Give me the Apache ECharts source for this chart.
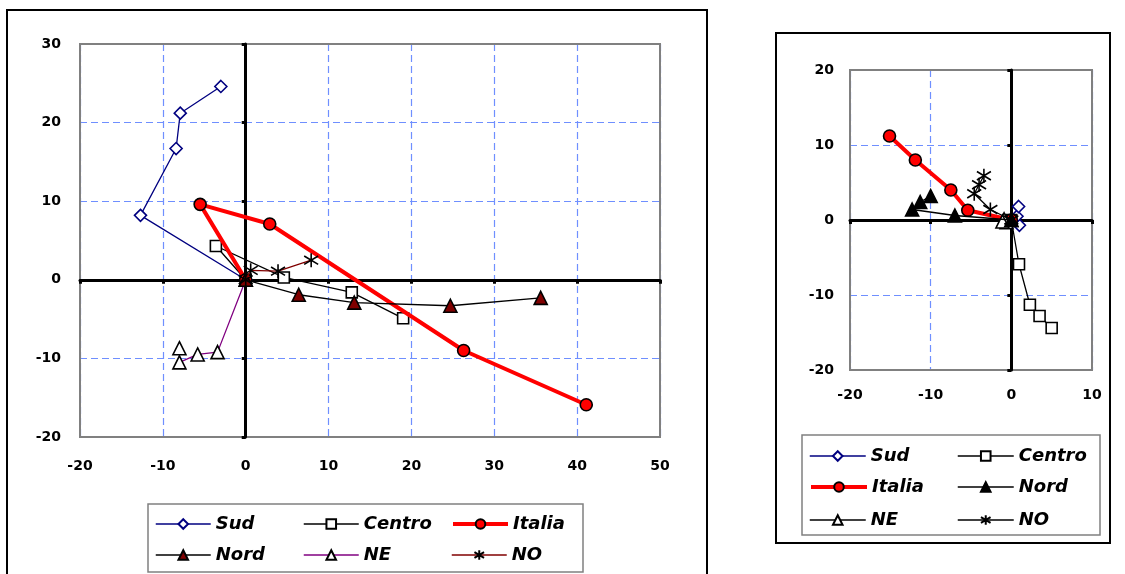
<!DOCTYPE html>
<html><head><meta charset="utf-8">
<script src="https://cdn.jsdelivr.net/npm/echarts@6/dist/echarts.min.js"></script>
<style>
body{margin:0;background:#fff;}
#a{position:absolute;left:0;top:0;width:740px;height:574px;}
#b{position:absolute;left:740px;top:0;width:385px;height:574px;}
</style>
</head><body><div id="a"></div><div id="b"></div>
<script>
// ---------- DATA ----------
const names = ['Sud','Centro','Italia','Nord','NE','NO'];
// Left chart
const xTicksL = [-20,-10,0,10,20,30,40,50];
const yTicksL = [-20,-10,0,10,20,30];
const sudL    = [[0,0],[-12.7,8.2],[-8.4,16.7],[-7.9,21.2],[-3.0,24.6]];
const centroL = [[0,0],[-3.6,4.3],[4.6,0.3],[12.8,-1.6],[19.0,-4.9]];
const italiaL = [[0,0],[-5.5,9.6],[2.9,7.1],[26.3,-9.0],[41.1,-15.9]];
const nordL   = [[0,0],[6.4,-1.9],[13.1,-2.9],[24.7,-3.3],[35.6,-2.3]];
const neL     = [[0,0],[-3.4,-9.2],[-5.8,-9.5],[-8.0,-10.5],[-8.0,-8.7]];
const noL     = [[0,0],[0.6,1.2],[3.9,1.1],[7.9,2.5]];
// Right chart
const xTicksR = [-20,-10,0,10];
const yTicksR = [-20,-10,0,10,20];
const sudR    = [[0,0],[1.0,-0.7],[0.7,0.5],[0.9,1.8]];
const centroR = [[0,0],[0.95,-5.9],[2.3,-11.3],[3.5,-12.8],[5.0,-14.4]];
const italiaR = [[0,0],[-5.4,1.3],[-7.5,4.0],[-11.9,8.0],[-15.1,11.2]];
const nordR   = [[0,0],[-7.0,0.6],[-12.3,1.4],[-11.3,2.4],[-10.0,3.2]];
const neR     = [[0,0],[-0.6,-0.3],[-0.9,0.1],[-1.1,-0.2]];
const noR     = [[0,0],[-2.6,1.4],[-4.6,3.5],[-4.0,4.7],[-3.4,5.9]];

// ---------- STYLE ----------
const ASTER = 'path://M5 0 L5 10 M0.6 2 L9.4 8 M0.6 8 L9.4 2';
const gridColor = '#6f8fff';
const font = '"DejaVu Sans", "Liberation Sans", Arial, sans-serif';

function styleL(){
  return {
    Sud:    {symbol:'diamond', size:12, fill:'#fff', stroke:'#000080', line:'#000080', lw:1.3, z:5},
    Centro: {symbol:'rect', size:11, fill:'#fff', stroke:'#000', line:'#000', lw:1.3, z:6},
    Italia: {symbol:'circle', size:12, fill:'#ff0000', stroke:'#000', line:'#ff0000', lw:4, z:7},
    Nord:   {symbol:'triangle', size:13, fill:'#800000', stroke:'#000', line:'#000', lw:1.3, z:9},
    NE:     {symbol:'triangle', size:13, fill:'#fff', stroke:'#000', line:'#800080', lw:1.3, z:8},
    NO:     {symbol:ASTER, size:14, fill:'transparent', stroke:'#000', line:'#800000', lw:1.3, z:10}
  };
}
function styleR(){
  return {
    Sud:    {symbol:'diamond', size:12, fill:'#fff', stroke:'#000080', line:'#000080', lw:1.3, z:5},
    Centro: {symbol:'rect', size:11, fill:'#fff', stroke:'#000', line:'#000', lw:1.3, z:6},
    Italia: {symbol:'circle', size:12, fill:'#ff0000', stroke:'#000', line:'#ff0000', lw:4, z:7},
    Nord:   {symbol:'triangle', size:13, fill:'#000', stroke:'#000', line:'#000', lw:1.3, z:11},
    NE:     {symbol:'triangle', size:13, fill:'#fff', stroke:'#000', line:'#000', lw:1.3, z:8},
    NO:     {symbol:ASTER, size:14, fill:'transparent', stroke:'#000', line:'#000', lw:1.3, z:10}
  };
}

function build(cfg){
  const xmin = cfg.xt[0], xmax = cfg.xt[cfg.xt.length-1], xint = cfg.xt[1]-cfg.xt[0];
  const ymin = cfg.yt[0], ymax = cfg.yt[cfg.yt.length-1], yint = cfg.yt[1]-cfg.yt[0];
  const labelStyle = {color:'#000', fontWeight:'bold', fontSize:cfg.labelSize, fontFamily:font};
  const series = cfg.names.map((n,i)=>{
    const s = cfg.style[n];
    return {
      name:n, type:'line', xAxisIndex:0, yAxisIndex:0, data:cfg.data[i],
      symbol:s.symbol, symbolSize:s.size, showSymbol:true,
      itemStyle:{color:s.fill, borderColor:s.stroke, borderWidth:1.6},
      lineStyle:{color:s.line, width:s.lw},
      z: s.z, emphasis:{disabled:true}
    };
  });
  const legends = cfg.legendPos.map((p,i)=>{
    const s = cfg.style[cfg.names[i]];
    return {
      data:[{name:cfg.names[i], lineStyle:{width: s.lw > 2 ? 4 : 1.5, color:s.line}}],
      left:p[0], top:p[1]-cfg.legendItemH/2, padding:0,
      itemWidth:cfg.legendItemW, itemHeight:cfg.legendItemH, selectedMode:false,
      textStyle:{color:'#000', fontWeight:'bold', fontStyle:'italic', fontSize:cfg.legendFont, fontFamily:font}
    };
  });
  const g = cfg.grid;
  return {
    animation:false,
    backgroundColor:'#fff',
    graphic:[
      {type:'rect', shape:cfg.outer, style:{fill:'none', stroke:'#000', lineWidth:2}, z:0},
      {type:'rect', shape:cfg.legendBox, style:{fill:'#fff', stroke:'#808080', lineWidth:1.5}, z:0},
      {type:'rect', shape:{x:g[0], y:g[1], width:g[2], height:g[3]}, style:{fill:'none', stroke:'#808080', lineWidth:2}, z:1}
    ],
    grid:{left:g[0], top:g[1], width:g[2], height:g[3], show:true,
          borderColor:'#808080', borderWidth:0, backgroundColor:'#fff', containLabel:false},
    xAxis:[
      {type:'value', min:xmin, max:xmax, interval:xint, position:'bottom', z:0,
       axisLine:{show:false, onZero:false}, axisTick:{show:false},
       axisLabel:{margin:cfg.xMargin, ...labelStyle},
       splitLine:{show:true, lineStyle:{color:gridColor, type:[7,4], width:1.2}}},
      {type:'value', min:xmin, max:xmax, interval:xint, position:'bottom', z:2,
       axisLine:{show:true, onZero:true, onZeroAxisIndex:0, lineStyle:{color:'#000', width:3, cap:'round'}},
       axisTick:{show:true, length:4, inside:false, lineStyle:{color:'#000', width:3}},
       axisLabel:{show:false}, splitLine:{show:false}}
    ],
    yAxis:[
      {type:'value', min:ymin, max:ymax, interval:yint, position:'left', z:0,
       axisLine:{show:false, onZero:false}, axisTick:{show:false},
       axisLabel:{margin:cfg.yMargin, ...labelStyle},
       splitLine:{show:true, lineStyle:{color:gridColor, type:[7,4], width:1.2}}},
      {type:'value', min:ymin, max:ymax, interval:yint, position:'left', z:2,
       axisLine:{show:true, onZero:true, onZeroAxisIndex:0, lineStyle:{color:'#000', width:3, cap:'round'}},
       axisTick:{show:true, length:4, inside:false, lineStyle:{color:'#000', width:3}},
       axisLabel:{show:false}, splitLine:{show:false}}
    ],
    legend:legends,
    series:series
  };
}

const chartA = echarts.init(document.getElementById('a'), null, {renderer:'canvas'});
chartA.setOption(build({
  names:names, style:styleL(),
  data:[sudL, centroL, italiaL, nordL, neL, noL],
  xt:xTicksL, yt:yTicksL, labelSize:14, xMargin:22, yMargin:19,
  grid:[80,44,580,393],
  outer:{x:7, y:10, width:700, height:600},
  legendBox:{x:148, y:504, width:435, height:68},
  legendItemW:55, legendItemH:12, legendFont:18,
  legendPos:[[155,521],[303,521],[451,521],[155,552],[303,552],[451,552]]
}));

const chartB = echarts.init(document.getElementById('b'), null, {renderer:'canvas'});
chartB.setOption(build({
  names:names, style:styleR(),
  data:[sudR, centroR, italiaR, nordR, neR, noR],
  xt:xTicksR, yt:yTicksR, labelSize:14, xMargin:18, yMargin:16,
  grid:[110,70,242,300],
  outer:{x:36, y:33, width:334, height:510},
  legendBox:{x:62, y:435, width:298, height:100},
  legendItemW:56, legendItemH:12, legendFont:18,
  legendPos:[[69,453],[217,453],[69,484],[217,484],[69,517],[217,517]]
}));
</script>
</body></html>
